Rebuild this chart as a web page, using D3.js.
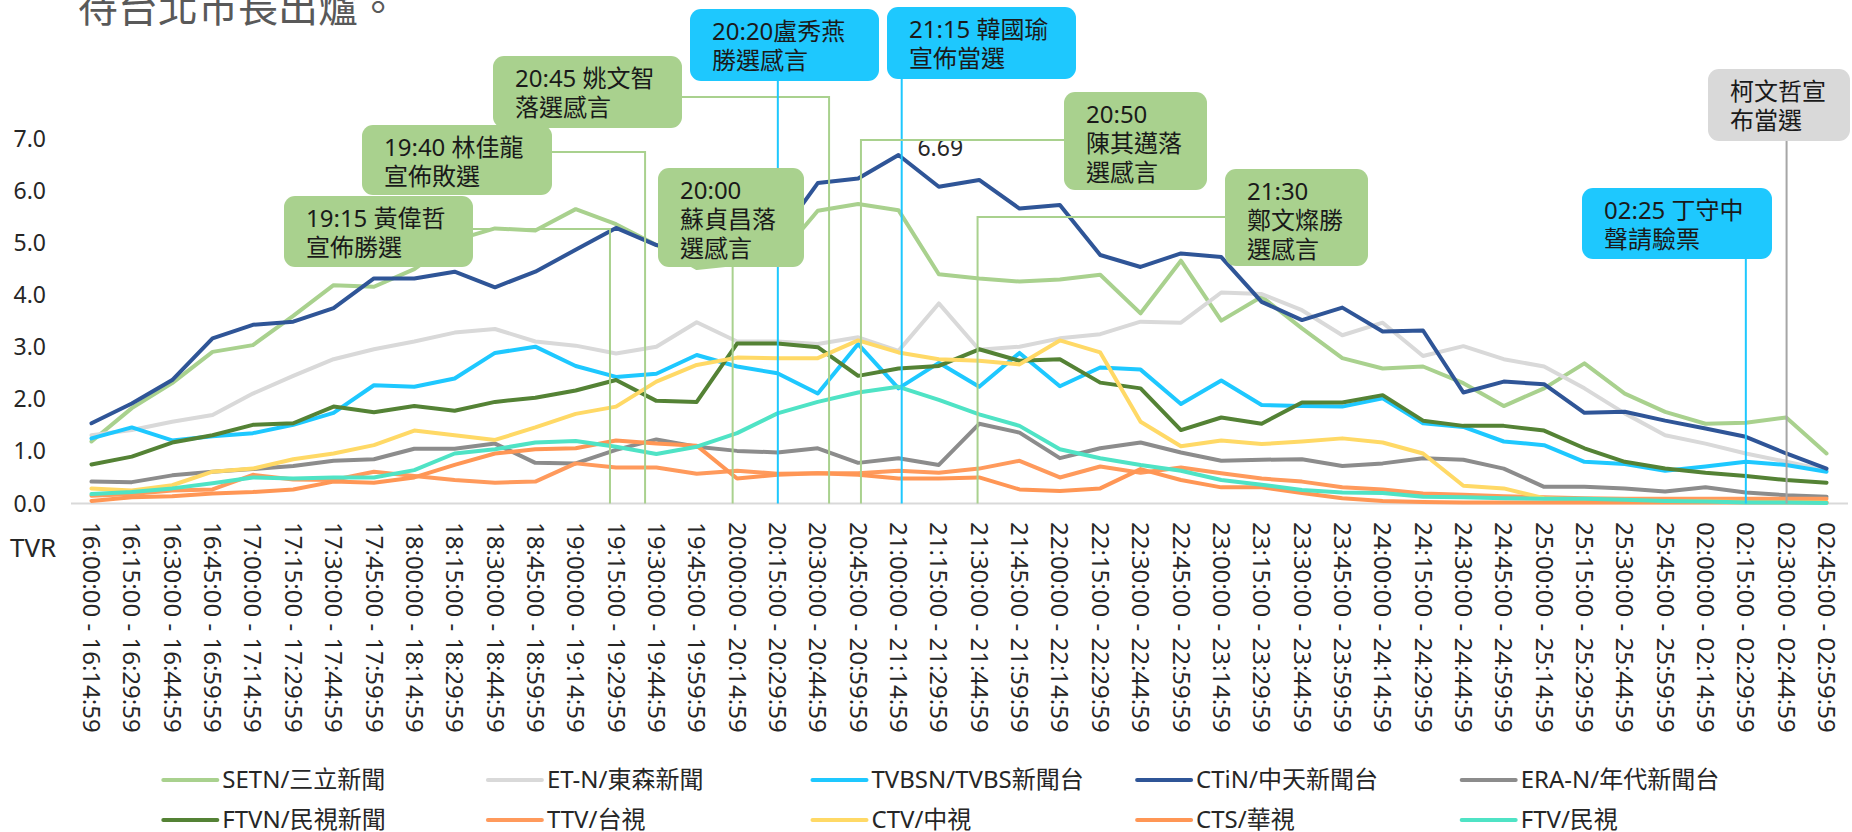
<!DOCTYPE html>
<html><head><meta charset="utf-8">
<script src="https://cdn.jsdelivr.net/npm/d3@7"></script>
<style>
html,body{margin:0;padding:0;background:#fff;overflow:hidden;}
svg{display:block;font-family:"Noto Sans","Noto Sans CJK TC",sans-serif;}
</style></head><body>
<svg id="chart" width="1852" height="832"></svg>
<script>
// ---------------- DATA ----------------
const categories = [
"16:00:00 - 16:14:59","16:15:00 - 16:29:59","16:30:00 - 16:44:59","16:45:00 - 16:59:59",
"17:00:00 - 17:14:59","17:15:00 - 17:29:59","17:30:00 - 17:44:59","17:45:00 - 17:59:59",
"18:00:00 - 18:14:59","18:15:00 - 18:29:59","18:30:00 - 18:44:59","18:45:00 - 18:59:59",
"19:00:00 - 19:14:59","19:15:00 - 19:29:59","19:30:00 - 19:44:59","19:45:00 - 19:59:59",
"20:00:00 - 20:14:59","20:15:00 - 20:29:59","20:30:00 - 20:44:59","20:45:00 - 20:59:59",
"21:00:00 - 21:14:59","21:15:00 - 21:29:59","21:30:00 - 21:44:59","21:45:00 - 21:59:59",
"22:00:00 - 22:14:59","22:15:00 - 22:29:59","22:30:00 - 22:44:59","22:45:00 - 22:59:59",
"23:00:00 - 23:14:59","23:15:00 - 23:29:59","23:30:00 - 23:44:59","23:45:00 - 23:59:59",
"24:00:00 - 24:14:59","24:15:00 - 24:29:59","24:30:00 - 24:44:59","24:45:00 - 24:59:59",
"25:00:00 - 25:14:59","25:15:00 - 25:29:59","25:30:00 - 25:44:59","25:45:00 - 25:59:59",
"02:00:00 - 02:14:59","02:15:00 - 02:29:59","02:30:00 - 02:44:59","02:45:00 - 02:59:59"];

const SETN  = [1.19,1.83,2.31,2.91,3.04,3.60,4.19,4.16,4.50,5.05,5.28,5.24,5.65,5.36,4.96,4.52,4.60,4.70,5.62,5.75,5.63,4.40,4.32,4.26,4.30,4.39,3.65,4.66,3.51,3.97,3.36,2.79,2.59,2.63,2.31,1.87,2.21,2.69,2.11,1.76,1.53,1.55,1.65,0.96];
const ETN   = [1.31,1.41,1.57,1.70,2.11,2.45,2.77,2.96,3.11,3.28,3.35,3.11,3.03,2.88,3.01,3.48,3.11,3.11,3.06,3.19,2.93,3.84,2.95,3.01,3.17,3.25,3.49,3.47,4.05,4.02,3.71,3.23,3.47,2.83,3.02,2.77,2.63,2.21,1.73,1.31,1.15,0.96,0.80,0.64];
const TVBSN = [1.25,1.46,1.21,1.29,1.35,1.51,1.74,2.27,2.24,2.40,2.89,3.01,2.64,2.43,2.49,2.85,2.63,2.50,2.11,3.06,2.21,2.70,2.24,2.89,2.25,2.61,2.57,1.91,2.36,1.89,1.87,1.86,2.02,1.54,1.47,1.19,1.12,0.80,0.76,0.63,0.71,0.80,0.74,0.61];
const CTIN  = [1.54,1.92,2.37,3.17,3.43,3.49,3.75,4.32,4.32,4.45,4.15,4.45,4.87,5.29,4.96,4.90,5.00,5.08,6.15,6.24,6.69,6.08,6.21,5.66,5.73,4.77,4.54,4.80,4.73,3.87,3.52,3.76,3.30,3.32,2.13,2.34,2.29,1.74,1.76,1.59,1.44,1.28,0.96,0.67];
const ERAN  = [0.42,0.41,0.54,0.61,0.66,0.72,0.82,0.85,1.05,1.05,1.15,0.78,0.77,1.03,1.23,1.09,1.01,0.98,1.06,0.78,0.87,0.74,1.53,1.36,0.87,1.06,1.17,0.98,0.82,0.84,0.85,0.72,0.77,0.87,0.84,0.67,0.32,0.32,0.29,0.23,0.31,0.21,0.16,0.13];
const FTVN  = [0.75,0.90,1.17,1.31,1.51,1.54,1.86,1.75,1.87,1.78,1.95,2.03,2.17,2.37,1.97,1.95,3.07,3.07,3.00,2.45,2.59,2.64,2.96,2.74,2.77,2.32,2.21,1.41,1.65,1.53,1.94,1.94,2.08,1.59,1.49,1.49,1.40,1.06,0.80,0.67,0.59,0.53,0.45,0.40];
const TTV   = [0.15,0.18,0.25,0.27,0.55,0.46,0.45,0.61,0.53,0.45,0.40,0.42,0.77,0.69,0.69,0.57,0.63,0.57,0.58,0.58,0.63,0.59,0.67,0.82,0.50,0.71,0.59,0.69,0.58,0.48,0.42,0.31,0.27,0.19,0.17,0.14,0.12,0.10,0.09,0.09,0.09,0.09,0.09,0.09];
const CTV   = [0.29,0.25,0.35,0.61,0.67,0.85,0.96,1.12,1.40,1.31,1.22,1.46,1.72,1.86,2.34,2.66,2.80,2.79,2.79,3.13,2.90,2.77,2.74,2.67,3.13,2.90,1.57,1.10,1.21,1.14,1.19,1.25,1.17,0.96,0.34,0.29,0.10,0.07,0.05,0.04,0.04,0.03,0.03,0.03];
const CTS   = [0.05,0.12,0.14,0.19,0.22,0.27,0.42,0.40,0.50,0.74,0.96,1.04,1.06,1.21,1.15,1.11,0.48,0.55,0.58,0.55,0.48,0.48,0.50,0.27,0.24,0.29,0.66,0.45,0.31,0.31,0.20,0.10,0.05,0.03,0.02,0.02,0.02,0.02,0.02,0.02,0.02,0.02,0.02,0.02];
const FTV   = [0.18,0.22,0.29,0.39,0.50,0.48,0.50,0.50,0.64,0.96,1.04,1.17,1.20,1.09,0.95,1.09,1.35,1.73,1.95,2.13,2.24,1.99,1.71,1.49,1.04,0.87,0.74,0.63,0.45,0.36,0.26,0.21,0.20,0.13,0.12,0.10,0.09,0.09,0.07,0.05,0.04,0.02,0.02,0.01];

const seriesNames = ["SETN/三立新聞","ET-N/東森新聞","TVBSN/TVBS新聞台","CTiN/中天新聞台","ERA-N/年代新聞台",
                     "FTVN/民視新聞","TTV/台視","CTV/中視","CTS/華視","FTV/民視"];
const seriesValues = [SETN, ETN, TVBSN, CTIN, ERAN, FTVN, TTV, CTV, CTS, FTV];
const yTicks = [0,1,2,3,4,5,6,7];
const yAxisTitle = "TVR";
const titleText = "待台北市長出爐。";
const peakLabel = {series: 3, index: 20, text: "6.69"};

// annotations: text lines, type, and the (fractional) category position they point to
const annoLines = [
  ["19:15 黃偉哲","宣佈勝選"], ["19:40 林佳龍","宣佈敗選"], ["20:45 姚文智","落選感言"],
  ["20:20盧秀燕","勝選感言"], ["20:00","蘇貞昌落","選感言"], ["21:15 韓國瑜","宣佈當選"],
  ["20:50","陳其邁落","選感言"], ["21:30","鄭文燦勝","選感言"], ["02:25 丁守中","聲請驗票"],
  ["柯文哲宣","布當選"]];
const annoKind = ["green","green","green","blue","green","blue","green","green","blue","gray"];
const annoAt   = [12.85, 13.72, 18.28, 17.01, 15.89, 20.08, 19.07, 21.96, 41.0, 42.01];

// ---------------- LAYOUT / STYLE ----------------
const colors = ["#A9D18E","#D9D9D9","#1EC8FF","#2F5597","#8C8C8C","#548235","#FF9A5C","#FFD966","#FF9655","#4FE3C5"];
const boxFill = {green:"#A9D18E", blue:"#1EC8FE", gray:"#D9D9D9"};
const connColor = {green:"#A9D18E", blue:"#1EC8FE", gray:"#A6A6A6"};
// box geometry [x, y, w, h], join side, join y
const annoBox = [
  {b:[284,196,189,71], join:"right", jy:229},
  {b:[362,125,190,70], join:"right", jy:152},
  {b:[493,56,189,72],  join:"right", jy:97},
  {b:[690,9,189,72],   join:"bottom"},
  {b:[658,168,146,99], join:"bottom"},
  {b:[887,7,189,72],   join:"bottom"},
  {b:[1064,92,143,98], join:"left", jy:140},
  {b:[1225,169,143,97],join:"left", jy:217},
  {b:[1582,188,190,71],join:"bottom"},
  {b:[1708,69,142,72], join:"bottom"}];

const svg = d3.select("#chart");
const x = d3.scalePoint().domain(categories).range([71.3, 1846.7]).padding(0.5);
const y = d3.scaleLinear().domain([0,7]).range([503.5, 138.8]);
const xi = d3.scaleLinear().domain([0, categories.length-1])
             .range([x(categories[0]), x(categories[categories.length-1])]);
const baseY = y(0);

// title (cut off at top in reference)
svg.append("text").attr("x",78).attr("y",22).attr("font-size",40)
   .attr("fill","#595959").text(titleText);

// axis baseline
svg.append("line").attr("x1",71).attr("x2",1848).attr("y1",baseY).attr("y2",baseY)
   .attr("stroke","#D9D9D9").attr("stroke-width",2);

// y tick labels
svg.append("g").selectAll("text").data(yTicks).join("text")
   .attr("x",46).attr("y",d=>y(d)).attr("dy","0.35em").attr("text-anchor","end")
   .attr("font-size",23).attr("fill","#262626").text(d=>d.toFixed(1));

svg.append("text").attr("x",10).attr("y",548).attr("dy","0.35em")
   .attr("font-size",26).attr("fill","#262626").text(yAxisTitle);

// x tick labels (rotated)
svg.append("g").selectAll("text").data(categories).join("text")
   .attr("transform",d=>`translate(${x(d)},522) rotate(90)`)
   .attr("dy","0.35em").attr("font-size",24).attr("fill","#262626").text(d=>d);

// series lines
const line = d3.line().x((d,i)=>x(categories[i])).y(d=>y(d));
svg.append("g").selectAll("path").data(seriesValues).join("path")
   .attr("d",d=>line(d)).attr("fill","none").attr("stroke",(d,i)=>colors[i])
   .attr("stroke-width",4).attr("stroke-linejoin","round").attr("stroke-linecap","round");

// peak data label
svg.append("text")
   .attr("x", x(categories[peakLabel.index]) + 19)
   .attr("y", y(seriesValues[peakLabel.series][peakLabel.index]) - 7)
   .attr("dy","0.35em").attr("font-size",23).attr("fill","#262626").text(peakLabel.text);

// annotation connectors
const conn = svg.append("g");
annoLines.forEach((lines,k)=>{
  const bx = annoBox[k], [X,Y,W,H] = bx.b, ax = xi(annoAt[k]), c = connColor[annoKind[k]];
  let pts;
  if (bx.join==="bottom") pts = [[ax,Y+H],[ax,baseY]];
  else if (bx.join==="right") pts = [[X+W,bx.jy],[ax,bx.jy],[ax,baseY]];
  else pts = [[X,bx.jy],[ax,bx.jy],[ax,baseY]];
  conn.append("path").attr("d",d3.line()(pts)).attr("fill","none")
      .attr("stroke",c).attr("stroke-width",2);
});

// annotation boxes
const boxes = svg.append("g");
annoLines.forEach((lines,k)=>{
  const [X,Y,W,H] = annoBox[k].b;
  boxes.append("rect").attr("x",X).attr("y",Y).attr("width",W).attr("height",H)
       .attr("rx",11).attr("fill",boxFill[annoKind[k]]);
  const t = boxes.append("text").attr("font-size",24).attr("fill","#1a1a1a");
  lines.forEach((s,j)=>{
    t.append("tspan").attr("x",X+22).attr("y",Y+30.5+j*29).text(s);
  });
});

// legend
const legend = svg.append("g");
seriesNames.forEach((name,i)=>{
  const col = i%5, row = Math.floor(i/5);
  const lx = 163.3 + col*324.6, ly = 780 + row*40;
  legend.append("line").attr("x1",lx).attr("x2",lx+54).attr("y1",ly).attr("y2",ly)
        .attr("stroke",colors[i]).attr("stroke-width",4).attr("stroke-linecap","round");
  legend.append("text").attr("x",lx+59).attr("y",ly).attr("dy","0.35em")
        .attr("font-size",24).attr("fill","#262626").text(name);
});
</script>
</body></html>
